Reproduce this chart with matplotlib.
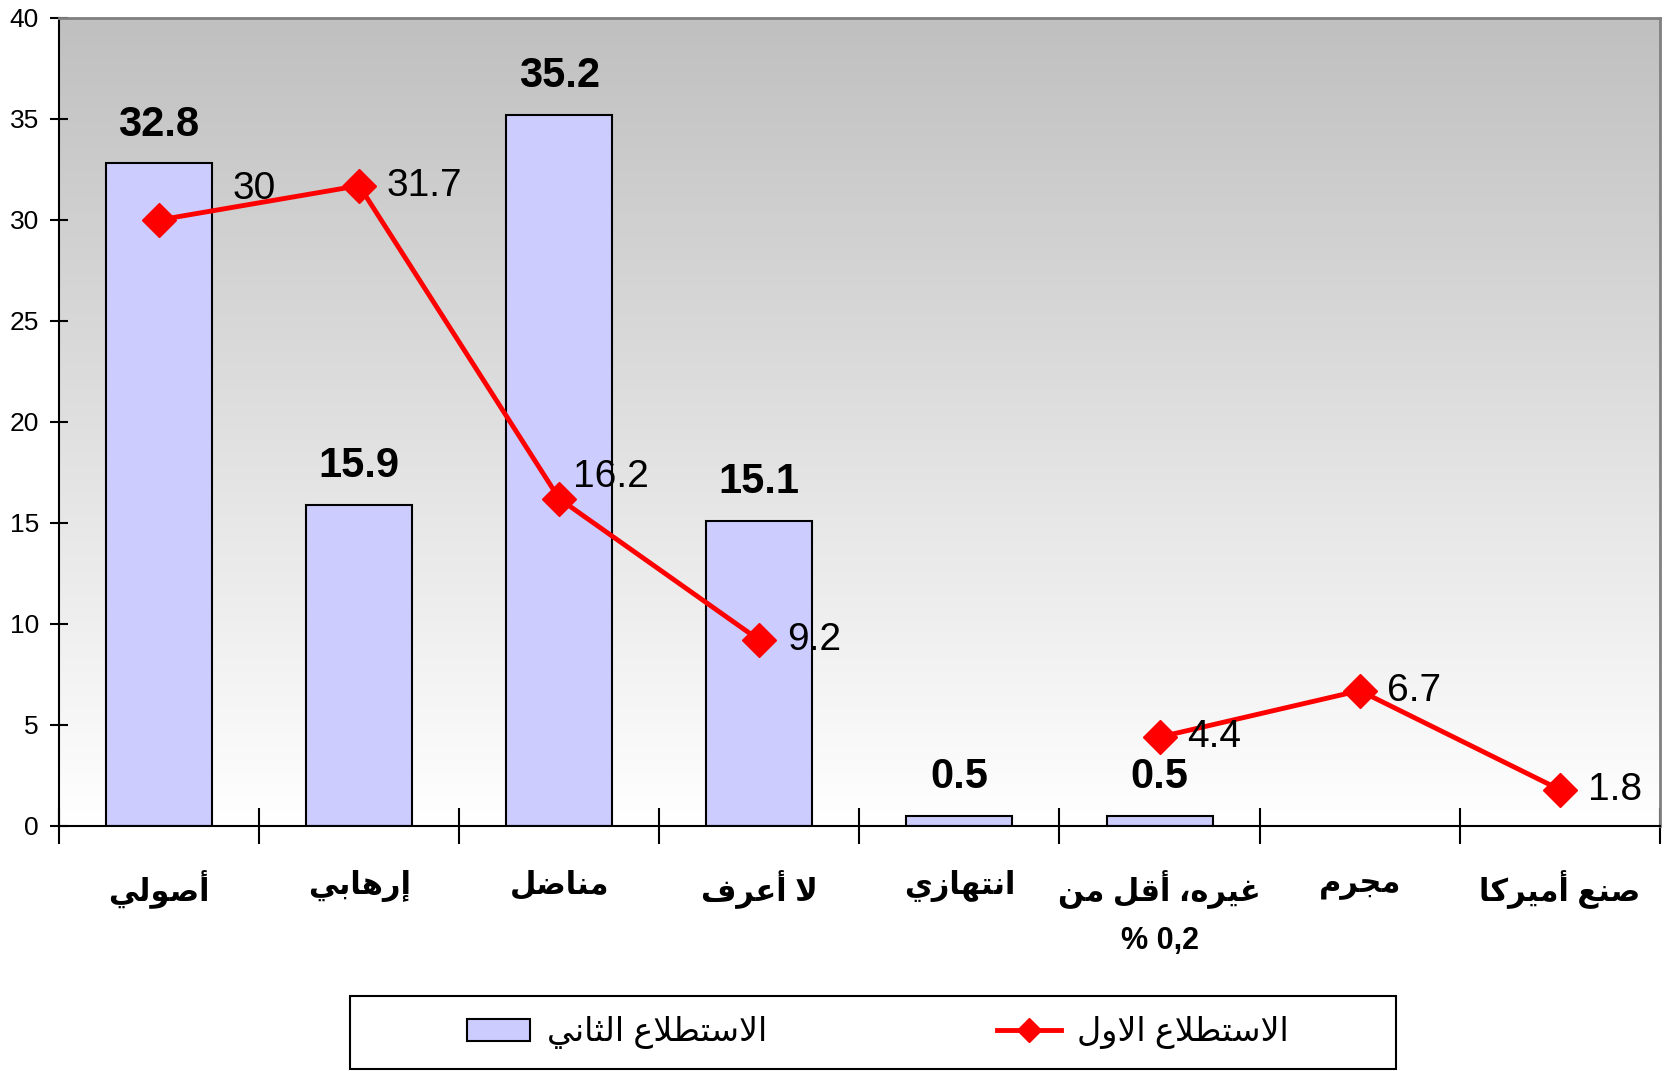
import numpy as np
import matplotlib
matplotlib.use("Agg")
import matplotlib.pyplot as plt
from matplotlib.patches import Patch, Rectangle
from matplotlib.lines import Line2D

# Data
categories = ["أصولي", "إرهابي", "مناضل", "لا أعرف", "انتهازي",
              "غيره، أقل من", "مجرم", "صنع أميركا"]
cat_second_line = ["", "", "", "", "", "% 0,2", "", ""]
survey2 = [32.8, 15.9, 35.2, 15.1, 0.5, 0.5, np.nan, np.nan]   # bars
survey1 = [30, 31.7, 16.2, 9.2, np.nan, 4.4, 6.7, 1.8]         # line
label_survey1 = "الاستطلاع الاول"
label_survey2 = "الاستطلاع الثاني"
yticks = [0, 5, 10, 15, 20, 25, 30, 35, 40]

# tiny arabic shaper (matplotlib does no shaping / bidi)
FORMS = {
    '\u0627': ('\uFE8D', '\uFE8E'), '\u0623': ('\uFE83', '\uFE84'),
    '\u0625': ('\uFE87', '\uFE88'), '\u0628': ('\uFE8F', '\uFE90', '\uFE91', '\uFE92'),
    '\u062A': ('\uFE95', '\uFE96', '\uFE97', '\uFE98'), '\u062B': ('\uFE99', '\uFE9A', '\uFE9B', '\uFE9C'),
    '\u062C': ('\uFE9D', '\uFE9E', '\uFE9F', '\uFEA0'), '\u0631': ('\uFEAD', '\uFEAE'),
    '\u0632': ('\uFEAF', '\uFEB0'), '\u0633': ('\uFEB1', '\uFEB2', '\uFEB3', '\uFEB4'),
    '\u0635': ('\uFEB9', '\uFEBA', '\uFEBB', '\uFEBC'), '\u0636': ('\uFEBD', '\uFEBE', '\uFEBF', '\uFEC0'),
    '\u0637': ('\uFEC1', '\uFEC2', '\uFEC3', '\uFEC4'), '\u0639': ('\uFEC9', '\uFECA', '\uFECB', '\uFECC'),
    '\u063A': ('\uFECD', '\uFECE', '\uFECF', '\uFED0'), '\u0641': ('\uFED1', '\uFED2', '\uFED3', '\uFED4'),
    '\u0642': ('\uFED5', '\uFED6', '\uFED7', '\uFED8'), '\u0643': ('\uFED9', '\uFEDA', '\uFEDB', '\uFEDC'),
    '\u0644': ('\uFEDD', '\uFEDE', '\uFEDF', '\uFEE0'), '\u0645': ('\uFEE1', '\uFEE2', '\uFEE3', '\uFEE4'),
    '\u0646': ('\uFEE5', '\uFEE6', '\uFEE7', '\uFEE8'), '\u0647': ('\uFEE9', '\uFEEA', '\uFEEB', '\uFEEC'),
    '\u0648': ('\uFEED', '\uFEEE'), '\u064A': ('\uFEF1', '\uFEF2', '\uFEF3', '\uFEF4'),
}
LAMALEF = {'\u0627': ('\uFEFB', '\uFEFC'), '\u0623': ('\uFEF7', '\uFEF8'),
           '\u0625': ('\uFEF9', '\uFEFA')}


def shape(s):
    out = []
    i = 0
    n = len(s)
    while i < n:
        c = s[i]
        if c not in FORMS:
            out.append(c)
            i += 1
            continue
        prev = s[i - 1] if i > 0 else ''
        join_prev = prev in FORMS and len(FORMS[prev]) == 4
        if c == '\u0644' and i + 1 < n and s[i + 1] in LAMALEF:
            out.append(LAMALEF[s[i + 1]][1 if join_prev else 0])
            i += 2
            continue
        nxt = s[i + 1] if i + 1 < n else ''
        join_next = len(FORMS[c]) == 4 and nxt in FORMS
        f = FORMS[c]
        if join_prev and join_next:
            out.append(f[3])
        elif join_prev:
            out.append(f[1])
        elif join_next:
            out.append(f[2])
        else:
            out.append(f[0])
        i += 1
    return ''.join(out)[::-1]


plt.rcParams['font.family'] = ['Liberation Sans', 'DejaVu Sans']

fig = plt.figure(figsize=(16.71, 10.71), dpi=100)
ax = fig.add_axes([0.0353, 0.2288, 0.9580, 0.7544])

x = np.arange(len(categories))
n = len(categories)

# gradient background, grey at top -> white at bottom
grad = np.linspace(192, 255, 256)[:, None] / 255.0
ax.imshow(np.dstack([grad, grad, grad]), extent=(-0.5, n - 0.5, 0, 40),
          aspect='auto', zorder=0, origin='upper')
ax.set_xlim(-0.5, n - 0.5)
ax.set_ylim(0, 40)

ax.bar(x, survey2, width=0.53, color='#CCCCFF', edgecolor='black', linewidth=1.5, zorder=2)
ax.plot(x, survey1, color='red', lw=3.5, marker='D', markersize=17, zorder=3)

for xi, v in zip(x, survey2):
    if not np.isnan(v):
        ax.annotate(f"{v:g}", (xi, v), xytext=(0, 28), textcoords='offset points',
                    ha='center', va='center', fontsize=30, fontweight='bold')

adjust = {0: (53, 22), 2: (10, 16)}
for xi, v in zip(x, survey1):
    if not np.isnan(v):
        dx, dy = adjust.get(xi, (20, 0))
        ax.annotate(f"{v:g}", (xi, v), xytext=(dx, dy), textcoords='offset points',
                    ha='left', va='center', fontsize=28)

# axes styling
for s in ['top', 'right']:
    ax.spines[s].set_color('#808080')
    ax.spines[s].set_linewidth(2)
for s in ['left', 'bottom']:
    ax.spines[s].set_color('black')
    ax.spines[s].set_linewidth(1.5)

ax.set_yticks(yticks)
ax.set_yticklabels([str(t) for t in yticks], fontsize=19)
ax.tick_params(axis='y', direction='inout', length=13, width=1.5, pad=8)
ax.set_xticks(x)
ax.set_xticklabels([shape(c) + ("\n" + s if s else "") for c, s in zip(categories, cat_second_line)],
                   fontsize=22, fontweight='bold', linespacing=1.75)
ax.tick_params(axis='x', length=0, pad=32)
ax.set_xticks(np.arange(-0.5, n), minor=True)
ax.tick_params(axis='x', which='minor', direction='inout', length=26, width=1.5)

# legend (frame drawn separately to get the wide box)
handles = [Patch(facecolor='#CCCCFF', edgecolor='black', linewidth=1.5),
           Line2D([], [], color='red', lw=3.5, marker='D', markersize=12)]
fig.legend(handles, [shape(label_survey2), shape(label_survey1)], ncol=2,
           loc='center', bbox_to_anchor=(0.5255, 0.0355), fontsize=24,
           frameon=False, columnspacing=6.9, handlelength=1.9,
           handleheight=0.65, handletextpad=0.5)
fig.add_artist(Rectangle((0.2095, 0.002), 0.6259, 0.068, transform=fig.transFigure,
                         facecolor='none', edgecolor='black', linewidth=1.5))

fig.savefig("out.png", dpi=100, facecolor='white')
